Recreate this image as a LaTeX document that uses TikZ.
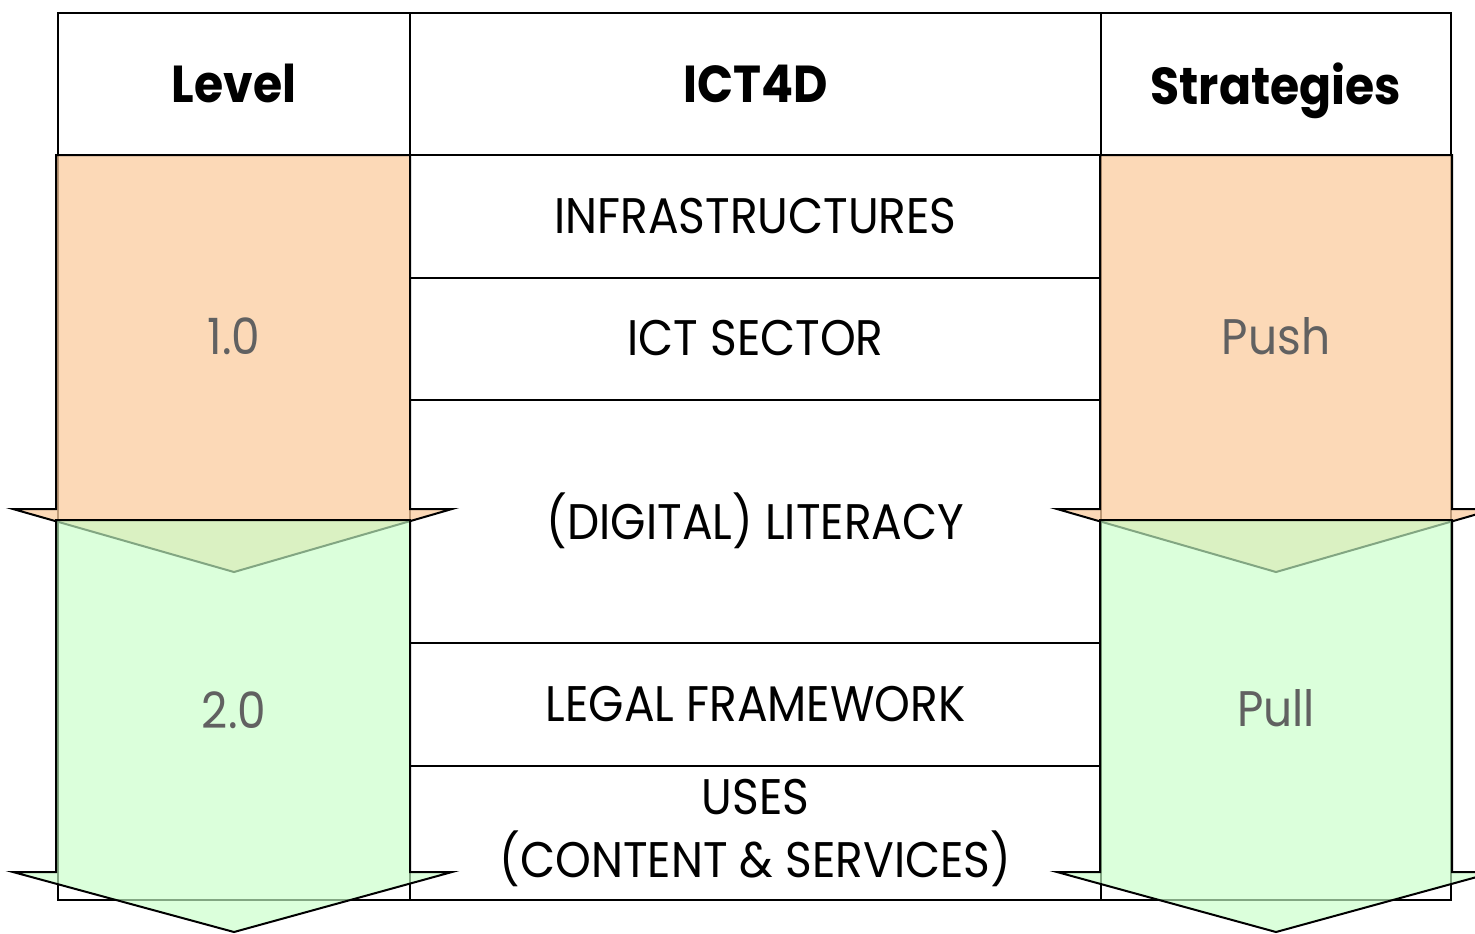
\documentclass[tikz,border=0pt]{standalone}
\usepackage{fontspec}
\setmainfont{Poppins}[FakeStretch=0.91]
\usepackage{tikz}
\usetikzlibrary{positioning}
\definecolor{pushorange}{RGB}{252,205,160}
\definecolor{pullgreen}{RGB}{200,255,200}
\tikzstyle{cell} = [rectangle, draw=black, line width=1pt, inner sep=0pt, outer sep=0pt, align=center, text=black, font=\fontsize{25}{31.5}\selectfont]
\tikzstyle{head} = [cell, text depth=0pt, font=\bfseries\fontsize{26}{32}\selectfont]
\tikzstyle{push} = [draw=black, line width=1pt, fill=pushorange, fill opacity=0.75]
\tikzstyle{pull} = [draw=black, line width=1pt, fill=pullgreen, fill opacity=0.65]
\tikzstyle{tag} = [text=black!62, font=\fontsize{25}{31.5}\selectfont]

\begin{document}
\begin{tikzpicture}[x=0.5pt, y=-0.5pt]

\fill[white] (0,0) rectangle (1475,933);
\useasboundingbox (0,0) rectangle (1475,933);

% header =============================
\node[head, minimum width=176pt, minimum height=71.25pt, anchor=north west] (level) at (58,12.5) {Level};
\node[head, minimum width=345.5pt, minimum height=71.25pt, right=0pt of level] (ict4d) {ICT4D};
\node[head, minimum width=175pt, minimum height=71.25pt, right=0pt of ict4d] (strat) {Strategies};

% side columns
\node[cell, minimum width=176pt, minimum height=372.5pt, below=0pt of level] (levelcol) {};
\node[cell, minimum width=175pt, minimum height=372.5pt, below=0pt of strat] (stratcol) {};

% ICT4D rows
\node[cell, minimum width=345.5pt, minimum height=61.25pt, below=0pt of ict4d] (infra) {INFRASTRUCTURES};
\node[cell, minimum width=345.5pt, minimum height=61pt, below=0pt of infra] (sector) {ICT SECTOR};
\node[cell, minimum width=345.5pt, minimum height=121.75pt, below=0pt of sector] (literacy) {(DIGITAL) LITERACY};
\node[cell, minimum width=345.5pt, minimum height=61.5pt, below=0pt of literacy] (legal) {LEGAL FRAMEWORK};
\node[cell, minimum width=345.5pt, minimum height=67pt, below=0pt of legal] (uses) {USES\\(CONTENT \& SERVICES)};

% arrows =============================
\path[push] (56,155) -- (410,155) -- (410,509) -- (452,509) -- (234,572) -- (13,509) -- (56,509) -- cycle;
\path[push] (1100,155) -- (1452,155) -- (1452,509) -- (1495,509) -- (1276,572) -- (1057,509) -- (1100,509) -- cycle;
\path[pull] (56,520) -- (410,520) -- (410,872) -- (452,872) -- (234,932) -- (13,872) -- (56,872) -- cycle;
\path[pull] (1100,520) -- (1452,520) -- (1452,872) -- (1495,872) -- (1276,932) -- (1057,872) -- (1100,872) -- cycle;

% labels
\node[tag] (one) at (234,336) {1.0};
\node[tag] (two) at (234,710) {2.0};
\node[tag] (pushtag) at (1276,336) {Push};
\node[tag] (pulltag) at (1276,708) {Pull};

\end{tikzpicture}
\end{document}
